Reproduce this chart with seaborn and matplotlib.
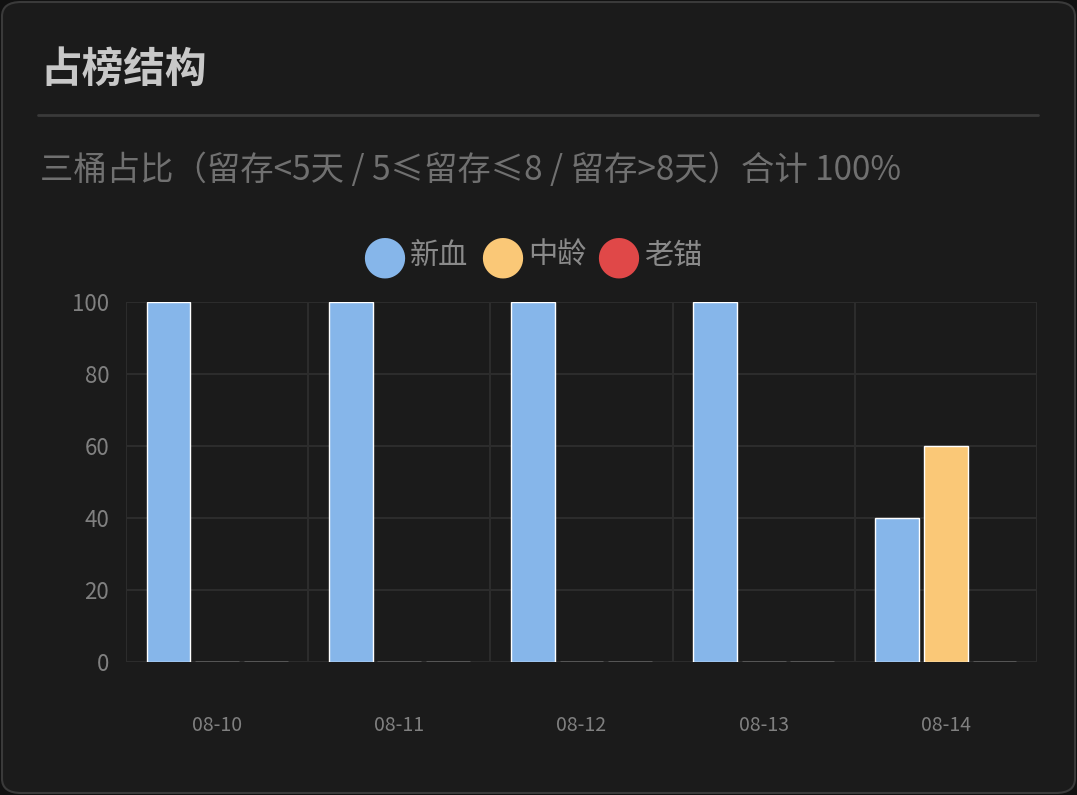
import numpy as np
import pandas as pd
import matplotlib
matplotlib.use('Agg')
import matplotlib.pyplot as plt
from matplotlib.patches import FancyBboxPatch
import seaborn as sns

dates = ['08-10', '08-11', '08-12', '08-13', '08-14']
series = ['新血', '中龄', '老锚']
xinxue = [100, 100, 100, 100, 40]
zhongling = [0, 0, 0, 0, 60]
laomao = [0, 0, 0, 0, 0]
colors = ['#86b6ea', '#fac877', '#e04848']

rows = []
for name, vals in zip(series, [xinxue, zhongling, laomao]):
    for d, v in zip(dates, vals):
        rows.append({'date': d, 'series': name, 'value': v})
df = pd.DataFrame(rows)

sns.set_style('dark')
plt.rcParams['font.family'] = ['Noto Sans CJK SC', 'DejaVu Sans']

W, H = 1077, 795
fig = plt.figure(figsize=(W / 100, H / 100), dpi=100)
fig.patch.set_facecolor('#111111')
card = FancyBboxPatch((2 / W, 2 / H), 1 - 4 / W, 1 - 4 / H,
                      boxstyle='round,pad=0,rounding_size=0.018',
                      transform=fig.transFigure, facecolor='#1b1b1b',
                      edgecolor='#3a3a3a', linewidth=1.5, zorder=-10)
fig.patches.append(card)

fig.text(40 / W, 1 - 70 / H, '占榜结构', color='#c8c8c8', fontsize=30,
         fontweight='bold', va='center')
fig.add_artist(plt.Line2D([38 / W, 1038 / W], [1 - 115 / H] * 2,
                          color='#3a3a3a', linewidth=2))
fig.text(40 / W, 1 - 171 / H, '三桶占比（留存<5天 / 5≤留存≤8 / 留存>8天）合计 100%',
         color='#707070', fontsize=24, va='center')

ax = fig.add_axes([126 / W, 1 - 662 / H, (1037 - 126) / W, (662 - 302) / H])
ax.set_zorder(5)
ax.set_facecolor('#1b1b1b')
sns.barplot(data=df, x='date', y='value', hue='series', palette=colors,
            width=0.8, ax=ax, legend=False, saturation=1)
for p in ax.patches:
    w = p.get_width()
    p.set_x(p.get_x() + w * 0.05)
    p.set_width(w * 0.9)
ax.set_xlim(-0.5, 4.5)
ax.set_ylim(0, 100)
ax.set_yticks(np.arange(0, 101, 20))
ax.set_xlabel('')
ax.set_ylabel('')
ax.set_xticks(np.arange(-0.5, 5, 1), minor=True)
ax.set_axisbelow(True)
ax.grid(True, which='major', axis='y', color='#2c2c2c', linewidth=1.5)
ax.grid(True, which='minor', axis='x', color='#2c2c2c', linewidth=1.5)
ax.grid(False, which='major', axis='x')
ax.tick_params(axis='x', which='major', length=0, pad=38, colors='#808080', labelsize=14)
ax.tick_params(axis='x', which='minor', length=25, color='#2c2c2c', width=1.5)
ax.tick_params(axis='y', length=0, pad=12, colors='#808080', labelsize=16)
for s in ax.spines.values():
    s.set_visible(False)

# legend
lx = [384, 502, 618]
for x, name, c in zip(lx, series, colors):
    fig.text(x / W, 1 - 257 / H, '●', color=c, fontsize=38, ha='center',
             va='center', family=['DejaVu Sans'])
    fig.text((x + 26) / W, 1 - 256 / H, name, color='#8a8a8a', fontsize=21,
             va='center')

fig.savefig('out.png', dpi=100, facecolor=fig.get_facecolor())
